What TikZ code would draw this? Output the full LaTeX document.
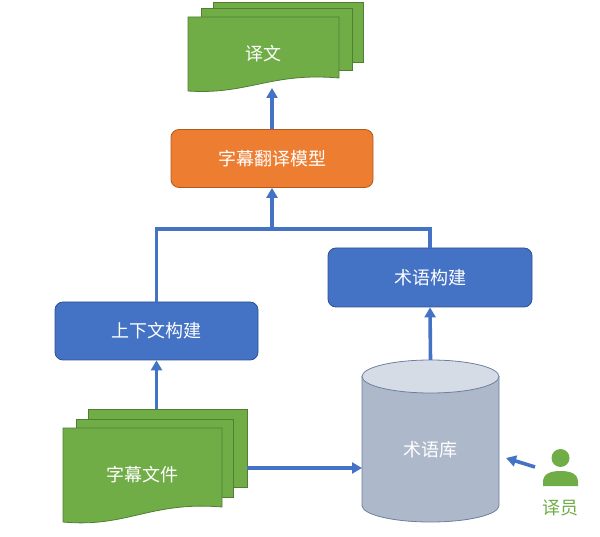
\documentclass[tikz,border=0pt]{standalone}
\usepackage{fontspec}
\newfontfamily\cjk{Noto Sans CJK SC}
\usetikzlibrary{arrows.meta}
\definecolor{linkblue}{HTML}{4472C4}
\definecolor{edgeblue}{HTML}{2F528F}
\definecolor{docgreen}{HTML}{70AD47}
\definecolor{edgegreen}{HTML}{507E32}
\definecolor{modelorange}{HTML}{ED7D31}
\definecolor{edgeorange}{HTML}{AE5A21}
\definecolor{dbgray}{HTML}{ADB9CA}
\definecolor{dbtopgray}{HTML}{D6DCE5}
\definecolor{dbedge}{HTML}{6D7F9F}
\tikzset{
  proc/.style={rectangle, rounded corners=8pt, draw=edgeblue, fill=linkblue, line width=0.8pt,
    text=white, font=\cjk\fontsize{18}{20}\selectfont, minimum width=203pt, minimum height=58pt, inner sep=0pt},
  sheet/.style={rectangle, draw=edgegreen, fill=docgreen, line width=0.8pt, inner sep=0pt},
  sheetline/.style={draw=edgegreen, fill=docgreen, line width=0.8pt},
  doctext/.style={text=white, font=\cjk\fontsize{18}{20}\selectfont, inner sep=0pt},
  dbbody/.style={draw=dbedge, fill=dbgray, line width=0.8pt},
  link/.style={draw=linkblue, line width=3.6pt, -{Triangle[length=10pt,width=11pt]}},
  wire/.style={draw=linkblue, line width=3.6pt},
}
\begin{document}
\begin{tikzpicture}[x=1pt,y=-1pt]
  \useasboundingbox (0,0) rectangle (600,537);
  \node[sheet, minimum width=150pt, minimum height=60pt] (transC) at (288,32) {};
  \node[sheet, minimum width=151pt, minimum height=62pt] (transB) at (276.5,39) {};
  \draw[sheetline] (188,17) -- (339,17) -- (339,78) .. controls (271,72) and (248,95) .. (188,91) -- cycle;
  \node[doctext, minimum width=151pt, minimum height=74pt] (trans) at (263.5,54) {译文};
  \node[proc, fill=modelorange, draw=edgeorange, minimum width=202pt] (model) at (272,158.5) {字幕翻译模型};
  \node[proc] (ctx) at (156.5,331) {上下文构建};
  \node[proc, minimum width=204pt, minimum height=59pt] (term) at (430,277.5) {术语构建};
  \node[sheet, minimum width=159pt, minimum height=78pt] (fileC) at (167.5,448) {};
  \node[sheet, minimum width=157pt, minimum height=78pt] (fileB) at (154.5,458) {};
  \draw[sheetline] (63,428) -- (222,428) -- (222,507) .. controls (150,501) and (127,528) .. (63,522) -- cycle;
  \node[doctext, minimum width=159pt, minimum height=94pt] (files) at (142.5,475) {字幕文件};
  \draw[dbbody] (362,376.5) -- (362,505.5) arc[start angle=180, end angle=360, x radius=68.5pt, y radius=16.5pt] -- (499,376.5) -- cycle;
  \draw[dbbody, fill=dbtopgray] (430.5,376.5) ellipse [x radius=68.5pt, y radius=16.5pt];
  \node[minimum width=137pt, minimum height=162pt, inner sep=0pt] (db) at (430.5,441) {};
  \node[doctext] (dbname) at (430.5,450) {术语库};
  \node[circle, fill=docgreen, minimum size=18pt, inner sep=0pt] (head) at (560.5,458) {};
  \fill[docgreen] (543,486) -- (543,482) .. controls (543,474) and (550,471) .. (560.5,471)
    .. controls (571,471) and (578,474) .. (578,482) -- (578,486) -- cycle;
  \node[font=\cjk\fontsize{18}{20}\selectfont, text=docgreen, inner sep=0pt] (user) at (560.5,508) {译员};
  \coordinate (transtip) at (272,88);
  \coordinate (hub) at (272,229);
  \coordinate (dbin) at (362,468);
  \coordinate (usr) at (535,467);
  \coordinate (dbout) at (506,458);
  \draw[link] (model.north) -- (transtip);
  \draw[wire] (ctx.north) |- (hub) -| (term.north);
  \draw[link] (hub) -- (model.south);
  \draw[link] (ctx.south |- fileC.north) -- (ctx.south);
  \draw[link] (fileC.east |- dbin) -- (dbin);
  \draw[link] (db.north) -- (term.south);
  \draw[link] (usr) -- (dbout);
\end{tikzpicture}
\end{document}
